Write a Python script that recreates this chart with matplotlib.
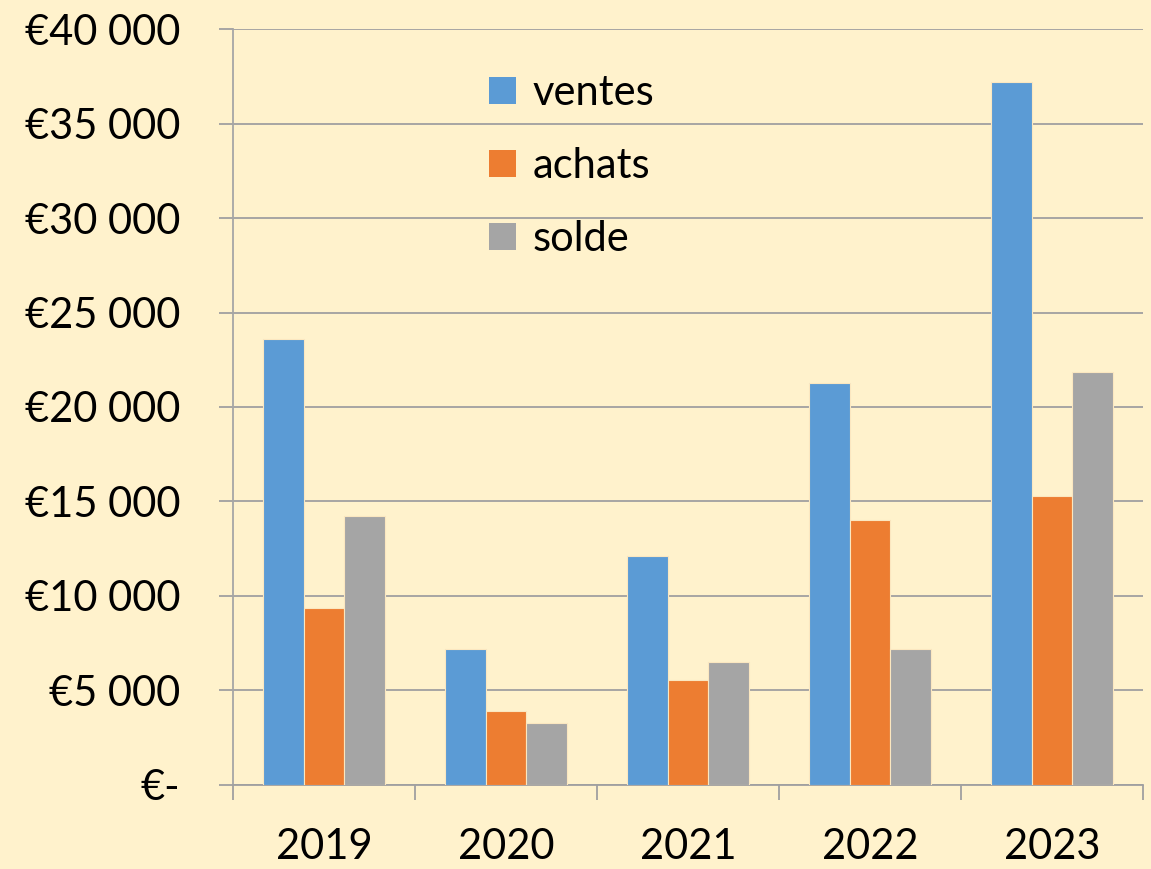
import matplotlib
matplotlib.use("Agg")
import matplotlib.pyplot as plt
import numpy as np
from matplotlib.patches import Patch
from matplotlib.ticker import FuncFormatter, MultipleLocator

years = ["2019", "2020", "2021", "2022", "2023"]
ventes = [23600, 7200, 12100, 21250, 37200]
achats = [9350, 3900, 5550, 14000, 15300]
solde = [14250, 3300, 6500, 7200, 21850]
series_names = ["ventes", "achats", "solde"]
colors = ["#5B9BD5", "#ED7D31", "#A5A5A5"]
bg = "#FFF2CC"

plt.rcParams['font.family'] = ['Lato', 'DejaVu Sans']

fig = plt.figure(figsize=(11.51, 8.69), dpi=100, facecolor=bg)
ax = fig.add_axes([0.2024, 0.0967, 0.7906, 0.8699], facecolor=bg)

x = np.arange(len(years))
w = 1 / 4.5
for i, (vals, c) in enumerate(zip([ventes, achats, solde], colors)):
    ax.bar(x + (i - 1) * w, vals, width=w, color=c, edgecolor="#FBE7C0",
           linewidth=0.8, zorder=3)

ax.set_xlim(-0.5, len(years) - 0.5)
ax.set_ylim(0, 40000)
ax.yaxis.set_major_locator(MultipleLocator(5000))

def fmt(v, pos):
    if v == 0:
        return "€-"
    return "€" + f"{int(v):,}".replace(",", " ")

ax.yaxis.set_major_formatter(FuncFormatter(fmt))
ax.grid(axis="y", color="#A0A0A0", linewidth=1.3, zorder=0)
ax.set_axisbelow(True)

for s in ["top", "right"]:
    ax.spines[s].set_visible(False)
ax.spines["left"].set_color("#A6A6A6")
ax.spines["bottom"].set_color("#A0A0A0")
ax.spines["left"].set_linewidth(1.3)
ax.spines["bottom"].set_linewidth(1.3)

ax.set_xticks(x)
ax.set_xticklabels(years)
ax.set_xticks(np.arange(len(years) + 1) - 0.5, minor=True)
ax.tick_params(axis="x", which="major", length=0, labelsize=30, pad=31)
ax.tick_params(axis="x", which="minor", length=11, width=1.3, color="#A0A0A0")
ax.tick_params(axis="y", length=10, width=1.3, color="#A0A0A0", labelsize=30, pad=28)

handles = [Patch(facecolor=c, edgecolor="none") for c in colors]
ax.legend(handles, series_names, loc="upper left", bbox_to_anchor=(0.24, 0.99),
          frameon=False, fontsize=30, handlelength=0.65, handleheight=0.65,
          handletextpad=0.4, labelspacing=0.84)

fig.savefig("out.png", dpi=100, facecolor=bg)
